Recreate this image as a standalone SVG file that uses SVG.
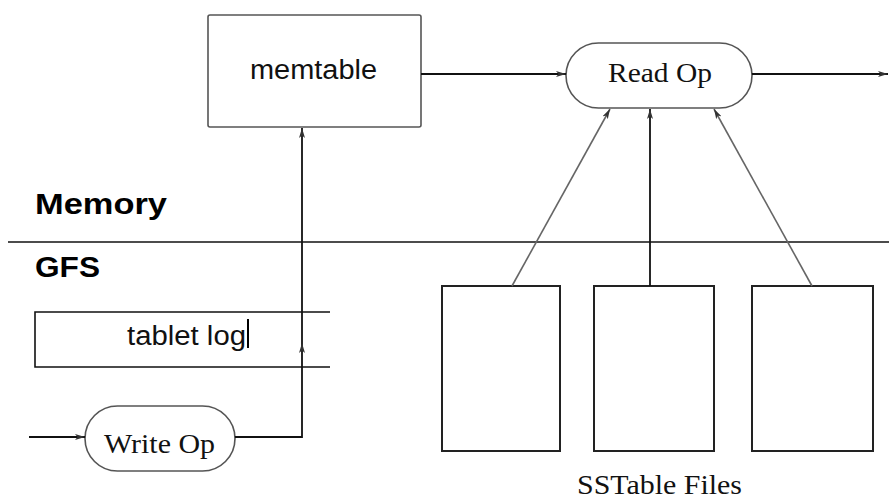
<svg xmlns="http://www.w3.org/2000/svg" width="889" height="500" viewBox="0 0 889 500">
<style>
.sans{font-family:"Liberation Sans",Arial,sans-serif;fill:#111}
.serif{font-family:"Liberation Serif","Times New Roman",serif;fill:#111}
.bold{font-family:"Liberation Sans",Arial,sans-serif;font-weight:bold;fill:#000}
.node{fill:#fff;stroke:#555;stroke-width:1.6}
.file{fill:#fff;stroke:#222;stroke-width:2}
.edge{fill:none;stroke:#111;stroke-width:1.8}
.edge2{fill:none;stroke:#666;stroke-width:1.6}
.rule{fill:none;stroke:#111;stroke-width:1.6}
</style>
<defs>
<marker id="arr" viewBox="0 0 10 6" refX="10" refY="3" markerWidth="10" markerHeight="6" markerUnits="userSpaceOnUse" orient="auto">
<path d="M0,0 L10,3 L0,6 L2.5,3 Z" fill="#333"/>
</marker>
</defs>
<rect width="889" height="500" fill="#fff"/>
<g id="labels">
<text class="bold" x="35" y="214" font-size="30" textLength="132" lengthAdjust="spacingAndGlyphs">Memory</text>
<text class="bold" x="35" y="277" font-size="29" textLength="65" lengthAdjust="spacingAndGlyphs">GFS</text>
<line class="rule" x1="8" y1="242" x2="889" y2="242"/>
</g>
<g id="memtable">
<rect class="node" x="208" y="15" width="213" height="112" rx="2"/>
<text class="sans" x="250" y="79" font-size="27" textLength="127" lengthAdjust="spacingAndGlyphs">memtable</text>
</g>
<g id="readop">
<rect class="node" x="566" y="43" width="186" height="65" rx="32.5"/>
<text class="serif" x="608" y="82" font-size="28" textLength="104" lengthAdjust="spacingAndGlyphs">Read Op</text>
</g>
<g id="tabletlog">
<path class="rule" d="M330,312 H35 V367 H330"/>
<text class="sans" x="127" y="345" font-size="27" textLength="119" lengthAdjust="spacingAndGlyphs">tablet log</text>
<line x1="248" y1="319" x2="248" y2="348" stroke="#000" stroke-width="2"/>
</g>
<g id="writeop">
<rect class="node" x="85" y="406" width="150" height="65" rx="32.5"/>
<text class="serif" x="104" y="453" font-size="28" textLength="111" lengthAdjust="spacingAndGlyphs">Write Op</text>
</g>
<g id="sstable1"><rect class="file" x="442" y="286" width="118" height="165"/></g>
<g id="sstable2"><rect class="file" x="594" y="286" width="120" height="165"/></g>
<g id="sstable3"><rect class="file" x="752" y="286" width="121" height="165"/></g>
<g id="sstablelabel">
<text class="serif" x="577" y="494" font-size="27" textLength="165" lengthAdjust="spacingAndGlyphs">SSTable Files</text>
</g>
<g id="connectors">
<line class="edge" x1="421" y1="74" x2="566" y2="74" marker-end="url(#arr)"/>
<line class="edge" x1="752" y1="74" x2="888" y2="74" marker-end="url(#arr)"/>
<line class="edge" x1="29" y1="437" x2="85" y2="437" marker-end="url(#arr)"/>
<path class="edge" d="M235,437 H302 V343" marker-end="url(#arr)"/>
<line class="edge" x1="302" y1="343" x2="302" y2="128" marker-end="url(#arr)"/>
<line class="edge2" x1="512" y1="286" x2="610" y2="109" marker-end="url(#arr)"/>
<line class="edge" x1="650" y1="286" x2="650" y2="109" marker-end="url(#arr)"/>
<line class="edge2" x1="812" y1="286" x2="714" y2="109" marker-end="url(#arr)"/>
</g>
</svg>
